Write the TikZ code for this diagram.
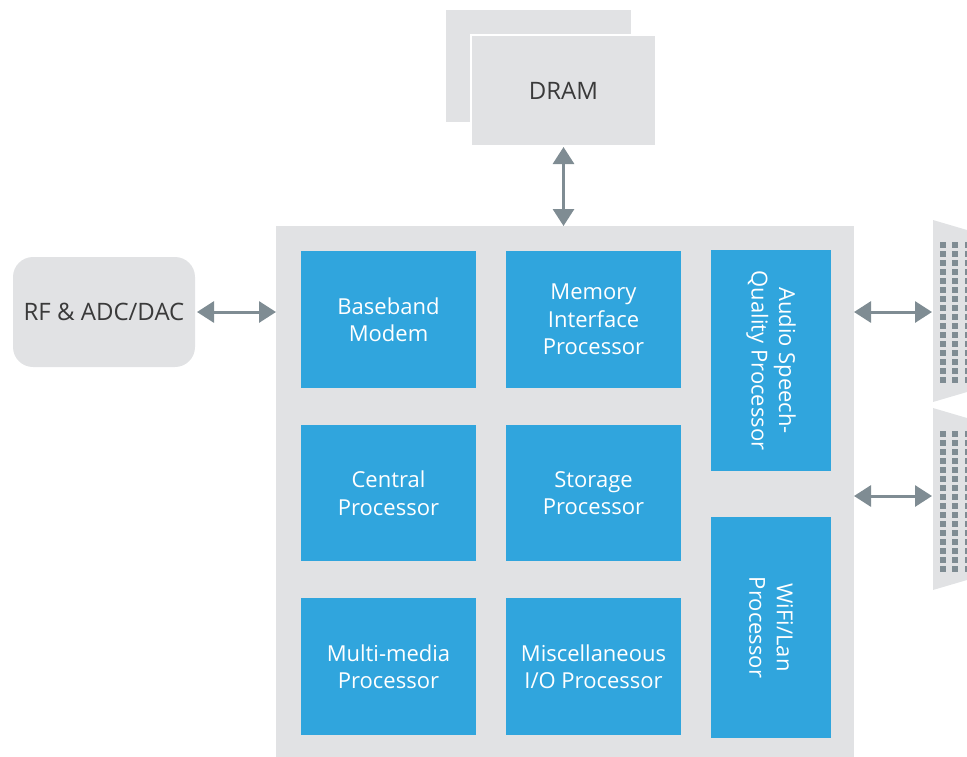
\documentclass[tikz,border=0pt]{standalone}
\usepackage{fontspec}
\setmainfont{Open Sans}
\usetikzlibrary{arrows.meta}
\definecolor{chipgrey}{HTML}{E1E2E4}
\definecolor{blockblue}{HTML}{30A5DD}
\definecolor{arrowgrey}{HTML}{7F8C93}
\definecolor{labelgrey}{HTML}{3A3A3A}
\begin{document}
\begin{tikzpicture}[x=1pt,y=-1pt,
  every node/.style={inner sep=0pt, outer sep=0pt, font=\fontsize{22}{27.5}\selectfont},
  greybox/.style={fill=chipgrey, text=labelgrey, align=center, font=\fontsize{24}{29}\selectfont},
  block/.style={fill=blockblue, text=white, align=center, minimum width=175, minimum height=137},
  vblock/.style={fill=blockblue, text=white, align=center, rotate=-90, minimum width=221, minimum height=120},
  biarrow/.style={arrowgrey, line width=3pt,
    {Triangle[length=17pt,width=21pt]}-{Triangle[length=17pt,width=21pt]}},
  pin/.style={fill=arrowgrey}]
\useasboundingbox (0,0) rectangle (967,756);
\clip (0,0) rectangle (967,756);

% SoC die
\node[fill=chipgrey, anchor=north west, minimum width=578, minimum height=560] (soc) at (276,226) {};

% processing blocks
\node[block] (bb)  at (388.5,319.5) {Baseband\\Modem};
\node[block] (mip) at (593.5,319.5) {Memory\\Interface\\Processor};
\node[block, minimum height=136] (cp) at (388.5,493) {Central\\Processor};
\node[block, minimum height=136] (sp) at (593.5,493) {Storage\\Processor};
\node[block] (mm)  at (388.5,666.5) {Multi-media\\Processor};
\node[block] (mio) at (593.5,666.5) {Miscellaneous\\I/O Processor};
\node[vblock] (audio) at (771,360.5) {Audio Speech-\\Quality Processor};
\node[vblock] (wifi)  at (771,627.5) {WiFi/Lan\\Processor};

% DRAM stack
\node[fill=chipgrey, minimum width=185, minimum height=112] (dramback) at (538.5,66) {};
\node[greybox, draw=white, line width=2.5pt, minimum width=185, minimum height=111] (dram) at (563.5,90.5) {DRAM};

% RF front end
\node[greybox, rounded corners=20pt, minimum width=182, minimum height=110] (rf) at (104,312) {RF \& ADC/DAC};

% external connectors
\fill[chipgrey] (933,220) -- (967,230) -- (967,392) -- (933,402) -- cycle;
\fill[chipgrey] (933,408) -- (967,418) -- (967,580) -- (933,590) -- cycle;
\foreach \c in {0,1,2}{
  \foreach \r in {0,...,15}{
    \fill[pin] (940+12.4*\c, 242+9*\r) rectangle ++(6,6);
    \fill[pin] (940+12.4*\c, 431+9*\r) rectangle ++(6,6);
  }
}
\coordinate (portA) at (932,312);
\coordinate (portB) at (932,496);

% links
\draw[biarrow] (dram.south) ++(0,1) coordinate (dramlink) -- (dramlink |- soc.north);
\draw[biarrow] ([xshift=2pt]rf.east) -- (rf.east -| soc.west);
\draw[biarrow] (soc.east |- portA) -- (portA);
\draw[biarrow] (soc.east |- portB) -- (portB);
\end{tikzpicture}
\end{document}
